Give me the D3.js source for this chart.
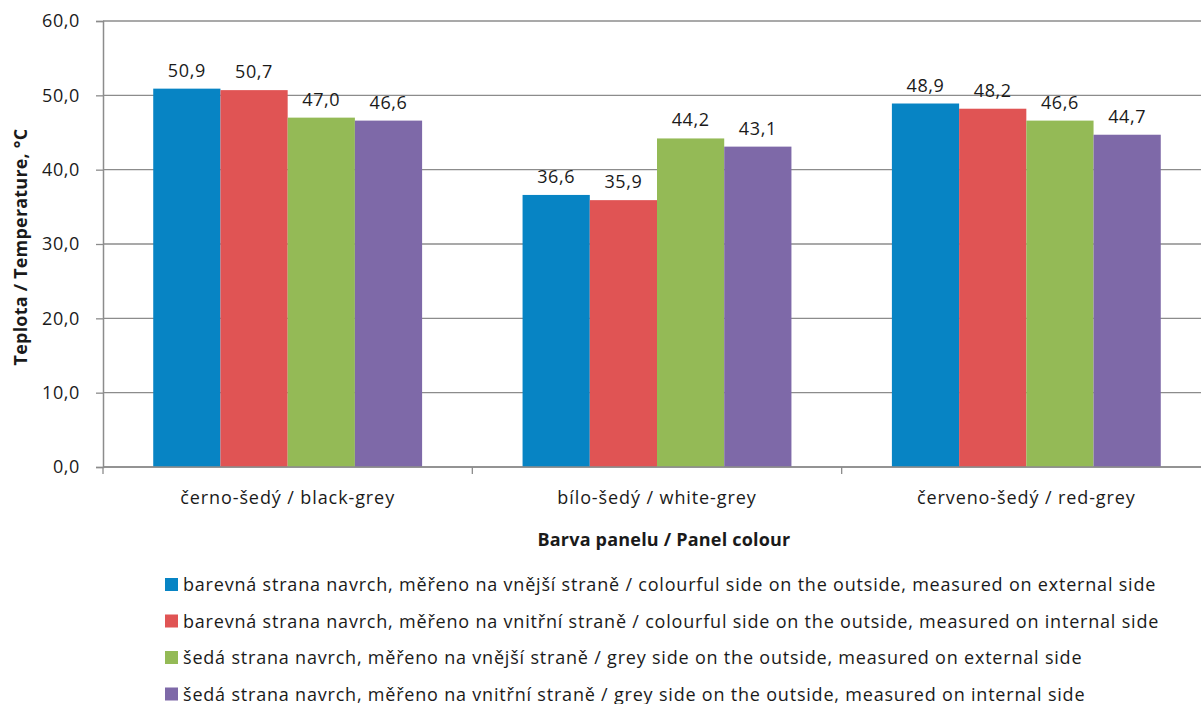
<!DOCTYPE html>
<html>
<head>
<meta charset="utf-8">
<script src="https://cdn.jsdelivr.net/npm/d3@7"></script>
<style>
  html, body { margin: 0; padding: 0; background: #fff; }
  svg { display: block; }
  text { font-family: "Open Sans", "Noto Sans", sans-serif; fill: #1a1a1a; }
</style>
</head>
<body>
<svg id="chart" width="1201" height="704"></svg>
<script>
// Panel colours (categories)
const categories = ["černo-šedý / black-grey", "bílo-šedý / white-grey", "červeno-šedý / red-grey"];

// Series names
const seriesNames = [
  "barevná strana navrch, měřeno na vnější straně / colourful side on the outside, measured on external side",
  "barevná strana navrch, měřeno na vnitřní straně / colourful side on the outside, measured on internal side",
  "šedá strana navrch, měřeno na vnější straně / grey side on the outside, measured on external side",
  "šedá strana navrch, měřeno na vnitřní straně / grey side on the outside, measured on internal side"
];

// Temperatures per series, one value per panel colour
const outsideColourExternal = [50.9, 36.6, 48.9];
const outsideColourInternal = [50.7, 35.9, 48.2];
const outsideGreyExternal   = [47.0, 44.2, 46.6];
const outsideGreyInternal   = [46.6, 43.1, 44.7];

const yTicks = [0, 10, 20, 30, 40, 50, 60];
const seriesColors = ["#0784c4", "#e05454", "#94ba56", "#7e69a8"];

const seriesValues = [outsideColourExternal, outsideColourInternal, outsideGreyExternal, outsideGreyInternal];

const svg = d3.select("#chart");
const plot = { left: 103, right: 1211, top: 21, bottom: 467 };

const fmt = v => v.toFixed(1).replace(".", ",");

const y = d3.scaleLinear().domain([0, 60]).range([plot.bottom, plot.top]);
const x0 = d3.scaleBand().domain(categories).range([plot.left, plot.right])
  .paddingInner(0.272).paddingOuter(0.136);
const x1 = d3.scaleBand().domain(d3.range(seriesNames.length)).range([0, x0.bandwidth()]);

// Horizontal gridlines
svg.append("g").selectAll("line").data(yTicks).join("line")
  .attr("x1", plot.left).attr("x2", plot.right)
  .attr("y1", d => y(d)).attr("y2", d => y(d))
  .attr("stroke", "#8c8c8c").attr("stroke-width", 1.3);

// Y axis
const yAxis = svg.append("g").attr("transform", `translate(${plot.left},0)`)
  .call(d3.axisLeft(y).tickValues(yTicks).tickFormat(fmt).tickSize(7).tickPadding(16));
yAxis.select(".domain").attr("stroke", "#8c8c8c").attr("stroke-width", 1.5);
yAxis.selectAll(".tick line").attr("stroke", "#8c8c8c").attr("stroke-width", 1.3);
yAxis.selectAll(".tick text").attr("font-size", 18).attr("letter-spacing", 0.6)
  .attr("font-family", null).attr("fill", "#1a1a1a");

// Bars
const groups = svg.append("g").selectAll("g").data(categories).join("g")
  .attr("transform", d => `translate(${x0(d)},0)`);

groups.selectAll("rect")
  .data((c, ci) => seriesValues.map((vals, si) => ({ si, v: vals[ci] })))
  .join("rect")
  .attr("x", d => x1(d.si))
  .attr("width", x1.bandwidth())
  .attr("y", d => y(d.v))
  .attr("height", d => y(0) - y(d.v))
  .attr("fill", d => seriesColors[d.si]);

groups.selectAll("text")
  .data((c, ci) => seriesValues.map((vals, si) => ({ si, v: vals[ci] })))
  .join("text")
  .attr("x", d => x1(d.si) + x1.bandwidth() / 2)
  .attr("y", d => y(d.v) - 12)
  .attr("text-anchor", "middle")
  .attr("font-size", 18).attr("letter-spacing", 0.6)
  .text(d => fmt(d.v));

// X axis
const xAxis = svg.append("g").attr("transform", `translate(0,${plot.bottom})`);
xAxis.append("line").attr("x1", plot.left).attr("x2", plot.right)
  .attr("stroke", "#8c8c8c").attr("stroke-width", 1.5);
const bounds = categories.map(c => x0(c) - x0.step() * x0.paddingInner() / 2).concat([plot.right]);
xAxis.selectAll("line.tick").data(bounds).join("line").attr("class", "tick")
  .attr("x1", d => d).attr("x2", d => d).attr("y1", 0).attr("y2", 7)
  .attr("stroke", "#8c8c8c").attr("stroke-width", 1.3);
xAxis.selectAll("text").data(categories).join("text")
  .attr("x", d => x0(d) + x0.bandwidth() / 2)
  .attr("y", 37)
  .attr("text-anchor", "middle")
  .attr("font-size", 18).attr("letter-spacing", 0.9)
  .text(d => d);

// Axis titles
svg.append("text")
  .attr("x", 664).attr("y", 546)
  .attr("text-anchor", "middle")
  .attr("font-size", 18).attr("font-weight", "bold").attr("letter-spacing", 0.2)
  .text("Barva panelu / Panel colour");

svg.append("text")
  .attr("transform", "translate(27,247) rotate(-90)")
  .attr("text-anchor", "middle")
  .attr("font-size", 18).attr("font-weight", "bold").attr("letter-spacing", 0.2)
  .text("Teplota / Temperature, °C");

// Legend
const legend = svg.append("g").attr("transform", "translate(165,578)");
const rows = legend.selectAll("g").data(seriesNames).join("g")
  .attr("transform", (d, i) => `translate(0,${i * 36.5})`);
rows.append("rect").attr("width", 13).attr("height", 13)
  .attr("fill", (d, i) => seriesColors[i]);
rows.append("text").attr("x", 18).attr("y", 13)
  .attr("font-size", 18).attr("letter-spacing", 0.8)
  .text(d => d);
</script>
</body>
</html>
